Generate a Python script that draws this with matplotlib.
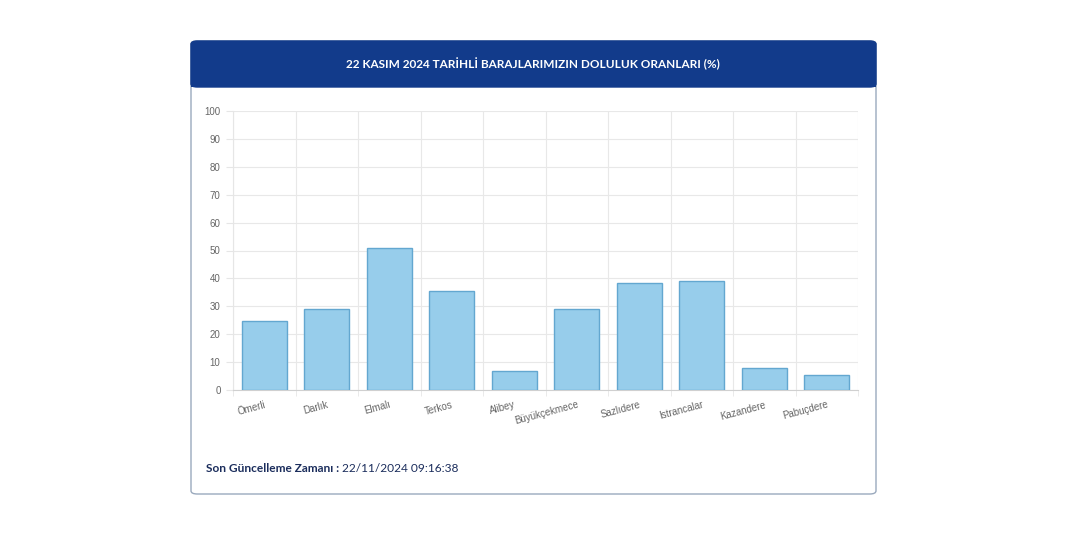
import matplotlib
matplotlib.use("Agg")
import matplotlib.pyplot as plt
from matplotlib.patches import FancyBboxPatch, Rectangle
import numpy as np

barajlar = ["Ömerli", "Darlık", "Elmalı", "Terkos", "Alibey", "Büyükçekmece",
            "Sazlıdere", "Istrancalar", "Kazandere", "Pabuçdere"]
doluluk = [24.8, 28.9, 50.8, 35.5, 6.7, 29.1, 38.4, 39.0, 7.8, 5.3]
y_ticks = [0, 10, 20, 30, 40, 50, 60, 70, 80, 90, 100]

title = "22 KASIM 2024 TARİHLİ BARAJLARIMIZIN DOLULUK ORANLARI (%)"
footer_bold = "Son Güncelleme Zamanı :"
footer_time = " 22/11/2024 09:16:38"

W, H = 1068, 534
fig = plt.figure(figsize=(W / 100, H / 100), dpi=100)
fig.patch.set_facecolor("white")

# card frame and header
card = FancyBboxPatch((191 / W, 1 - 494 / H), (876 - 191) / W, (494 - 41) / H,
                      boxstyle="round,pad=0,rounding_size=0.006",
                      transform=fig.transFigure, facecolor="white",
                      edgecolor="#9aa9bd", linewidth=1.0, zorder=-3)
fig.patches.append(card)
header = FancyBboxPatch((191 / W, 1 - 87 / H), (876 - 191) / W, (87 - 41) / H,
                        boxstyle="round,pad=0,rounding_size=0.006",
                        transform=fig.transFigure, facecolor="#123b8b",
                        edgecolor="#123b8b", linewidth=1.0, zorder=-2)
fig.patches.append(header)
fig.patches.append(Rectangle((191 / W, 1 - 87 / H), (876 - 191) / W, 10 / H,
                             transform=fig.transFigure, facecolor="#123b8b",
                             edgecolor="none", zorder=-2))
fig.text(533 / W, 1 - 64 / H, title, color="white", fontsize=8.5,
         fontweight="bold", family="Lato", ha="center", va="center", zorder=2)

ft = fig.text(206 / W, 1 - 468 / H, footer_bold, color="#1b2d5c", fontsize=8.6,
              fontweight="bold", family="Lato", ha="left", va="center")
fig.canvas.draw()
bb = ft.get_window_extent()
fig.text(bb.x1 / W, 1 - 468 / H, footer_time, color="#1b2d5c", fontsize=8.6,
         family="Lato", ha="left", va="center")

ax = fig.add_axes([233 / W, 1 - 390 / H, (858 - 233) / W, (390 - 111) / H])
ax.set_facecolor("none")
ax.set_zorder(1)
x = np.arange(len(barajlar))
ax.bar(x, doluluk, width=0.72, color="#97cdeb", edgecolor="#63a7d0",
       linewidth=1.0, zorder=3)

ax.set_xlim(-0.5, len(barajlar) - 0.5)
ax.set_ylim(0, 100)
ax.set_yticks(y_ticks)
ax.set_yticklabels([str(v) for v in y_ticks], fontsize=7, color="#666666",
                   family="Liberation Sans")
ax.set_xticks(x)
ax.set_xticklabels(barajlar, rotation=15, ha="right", rotation_mode="anchor",
                   fontsize=7, color="#666666", family="Liberation Sans")
ax.set_xticks(np.arange(-0.5, len(barajlar), 1), minor=True)
ax.tick_params(axis="x", which="major", length=0, pad=7)
ax.tick_params(axis="x", which="minor", length=4, color="#e6e6e6")
ax.tick_params(axis="y", length=5, color="#e6e6e6", pad=4)
ax.grid(axis="y", color="#e8e8e8", linewidth=0.8, zorder=0)
ax.grid(axis="x", which="minor", color="#e8e8e8", linewidth=0.8, zorder=0)
for s in ["top", "right"]:
    ax.spines[s].set_visible(False)
ax.spines["left"].set_color("#e6e6e6")
ax.spines["bottom"].set_color("#d0d0d0")

plt.savefig("out.png", dpi=100)
